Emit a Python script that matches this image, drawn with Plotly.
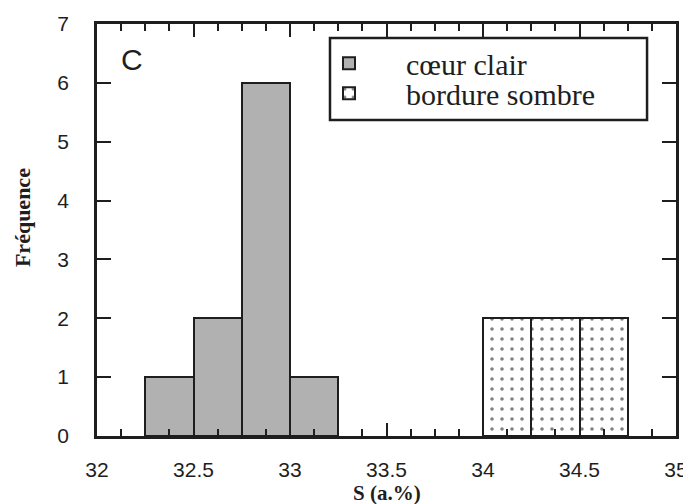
#!/usr/bin/env python3

import plotly.graph_objects as go

# histogram bins (left edge) and counts
bin_width = 0.25
coeur_left = [32.25, 32.5, 32.75, 33.0]
coeur_count = [1, 2, 6, 1]
bordure_left = [34.0, 34.25, 34.5]
bordure_count = [2, 2, 2]

x_ticks = [32, 32.5, 33, 33.5, 34, 34.5, 35]
y_ticks = [0, 1, 2, 3, 4, 5, 6, 7]

serif = 'Liberation Serif'
sans = 'Liberation Sans'
ink = '#1e1e1e'

fig = go.Figure()

fig.add_trace(go.Bar(
	x=coeur_left, y=coeur_count,
	width=bin_width, offset=0,
	name='cœur clair', legend='legend',
	marker=dict(color='#b1b1b1', line=dict(color=ink, width=2)),
))

fig.add_trace(go.Bar(
	x=bordure_left, y=bordure_count,
	width=bin_width, offset=0,
	name='bordure sombre', legend='legend2',
	marker=dict(
		color='white',
		line=dict(color=ink, width=2),
		pattern=dict(shape='.', fgcolor='black', bgcolor='white', size=10, solidity=0.1),
	),
))

# panel letter
fig.add_annotation(
	text='C', x=0.060, y=0.915, xref='paper', yref='paper',
	xanchor='center', yanchor='middle', showarrow=False,
	font=dict(family=sans, size=30, color=ink),
)

# axis titles placed by hand
fig.add_annotation(
	text='<b>S (a.%)</b>', x=0.5, y=-0.138, xref='paper', yref='paper',
	xanchor='center', yanchor='middle', showarrow=False,
	font=dict(family=serif, size=21, color=ink),
)
fig.add_annotation(
	text='<b>Fréquence</b>', x=-0.1295, y=0.529, xref='paper', yref='paper',
	xanchor='center', yanchor='middle', showarrow=False, textangle=-90,
	font=dict(family=serif, size=22, color=ink),
)

# legend frame
fig.add_shape(
	type='rect', xref='paper', yref='paper',
	x0=0.4024, x1=0.95, y0=0.767, y1=0.966,
	line=dict(color=ink, width=2.5), fillcolor='white', layer='below',
)

axis_common = dict(
	showgrid=False, zeroline=False, automargin=False,
	showline=True, linecolor=ink, linewidth=2.5,
	mirror='allticks', ticks='inside', tickcolor=ink, tickwidth=2,
	tickfont=dict(family=sans, size=21, color=ink),
)

fig.update_xaxes(
	range=[32, 35], tickvals=x_ticks, ticklen=13,
	minor=dict(dtick=0.125, ticklen=7, ticks='inside', tickcolor=ink, tickwidth=2),
	ticklabelstandoff=13,
	**axis_common,
)
fig.update_yaxes(
	range=[0, 7], tickvals=y_ticks, ticklen=14,
	ticklabelstandoff=21,
	**axis_common,
)

legend_common = dict(
	xanchor='left', yanchor='middle',
	borderwidth=0, bgcolor='rgba(0,0,0,0)',
	font=dict(family=serif, size=30, color=ink),
	itemwidth=104,
)

# the page adds an 8px body margin, so the figure is shrunk by that amount
fig.update_layout(
	width=683, height=496,
	margin=dict(l=89, r=15, t=16, b=68),
	plot_bgcolor='white', paper_bgcolor='white',
	barmode='overlay', bargap=0,
	showlegend=True,
	legend=dict(x=0.3368, y=0.905, **legend_common),
	legend2=dict(x=0.3368, y=0.832, **legend_common),
)

fig.write_html('out.html')
